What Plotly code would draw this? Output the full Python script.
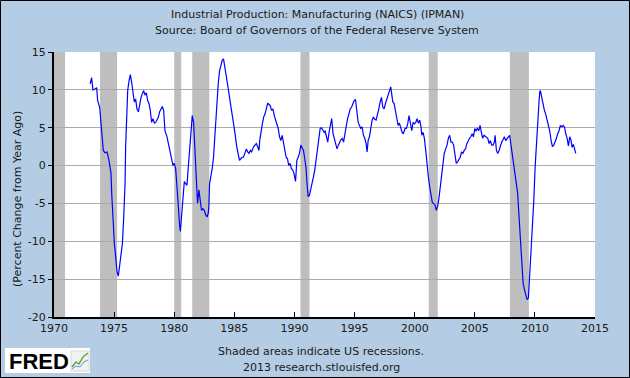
import plotly.graph_objects as go

# ---- data (decimal year, percent change from year ago) ----
years = [
    1973.00, 1973.13, 1973.24, 1973.41, 1973.55, 1973.63, 1973.80, 1973.91, 1974.02, 1974.10,
    1974.24, 1974.41, 1974.57, 1974.74, 1974.80, 1974.91, 1975.02, 1975.13, 1975.24, 1975.35,
    1975.46, 1975.57, 1975.69, 1975.80, 1975.91, 1975.96, 1976.07, 1976.13, 1976.24, 1976.35,
    1976.46, 1976.57, 1976.68, 1976.79, 1976.90, 1977.02, 1977.13, 1977.24, 1977.35, 1977.46,
    1977.57, 1977.68, 1977.79, 1977.90, 1978.01, 1978.12, 1978.23, 1978.35, 1978.46, 1978.57,
    1978.68, 1978.79, 1978.90, 1979.01, 1979.12,
    1979.23, 1979.40, 1979.57, 1979.73, 1979.90, 1980.01, 1980.12, 1980.23, 1980.34, 1980.45,
    1980.51, 1980.62, 1980.73, 1980.84, 1980.95, 1981.06, 1981.17, 1981.28, 1981.39, 1981.50,
    1981.61, 1981.72, 1981.83, 1981.94, 1982.05, 1982.16, 1982.27, 1982.39, 1982.50, 1982.61,
    1982.72, 1982.83, 1982.88, 1982.94, 1983.05, 1983.16, 1983.27, 1983.38, 1983.49, 1983.60,
    1983.66, 1983.77, 1983.88, 1983.99, 1984.10, 1984.21, 1984.32, 1984.43, 1984.54, 1984.65,
    1984.76, 1984.87, 1984.98, 1985.09, 1985.20, 1985.31, 1985.43, 1985.54, 1985.65, 1985.76,
    1985.87,
    1986.00, 1986.11, 1986.22, 1986.33, 1986.44, 1986.61, 1986.72, 1986.83, 1986.94, 1987.05,
    1987.11, 1987.22, 1987.33, 1987.44, 1987.55, 1987.66, 1987.77, 1987.88, 1987.99, 1988.10,
    1988.21, 1988.32, 1988.43, 1988.54, 1988.65, 1988.76, 1988.87, 1988.98, 1989.09, 1989.20,
    1989.31, 1989.42, 1989.53, 1989.64, 1989.75, 1989.86, 1989.97, 1990.09, 1990.14, 1990.20,
    1990.31, 1990.42, 1990.53, 1990.64, 1990.75, 1990.86, 1990.97, 1991.03, 1991.14, 1991.25,
    1991.36, 1991.47, 1991.58, 1991.69, 1991.80, 1991.91, 1992.03, 1992.14, 1992.25, 1992.36,
    1992.47,
    1992.55, 1992.66, 1992.77, 1992.88, 1993.00, 1993.10, 1993.21, 1993.32, 1993.43, 1993.54,
    1993.65, 1993.76, 1993.86, 1993.98, 1994.09, 1994.20, 1994.31, 1994.42, 1994.53, 1994.64,
    1994.75, 1994.86, 1994.97, 1995.08, 1995.19, 1995.30, 1995.41, 1995.52, 1995.63, 1995.74,
    1995.85, 1995.96, 1996.04, 1996.13, 1996.24, 1996.35, 1996.46, 1996.57, 1996.68, 1996.79,
    1996.90, 1997.02, 1997.13, 1997.24, 1997.35, 1997.46, 1997.57, 1997.68, 1997.79, 1997.90,
    1998.01, 1998.07, 1998.18, 1998.29, 1998.40, 1998.51, 1998.62, 1998.73, 1998.84, 1998.95,
    1999.06,
    1999.20, 1999.31, 1999.42, 1999.53, 1999.64, 1999.76, 1999.87, 1999.98, 2000.09, 2000.20,
    2000.31, 2000.42, 2000.53, 2000.59, 2000.70, 2000.81, 2000.92, 2001.03, 2001.14, 2001.25,
    2001.36, 2001.47, 2001.58, 2001.69, 2001.80, 2001.91, 2002.02, 2002.13, 2002.24, 2002.35,
    2002.46, 2002.58, 2002.69, 2002.80, 2002.91, 2003.02, 2003.13, 2003.24, 2003.35, 2003.46,
    2003.57, 2003.68, 2003.79, 2003.90, 2004.01, 2004.12, 2004.23, 2004.34, 2004.45, 2004.56,
    2004.67, 2004.78, 2004.89, 2005.00, 2005.11, 2005.22, 2005.33, 2005.44, 2005.55, 2005.66,
    2005.77,
    2005.97, 2006.08, 2006.19, 2006.30, 2006.41, 2006.52, 2006.63, 2006.69, 2006.80, 2006.91,
    2007.02, 2007.13, 2007.24, 2007.35, 2007.46, 2007.57, 2007.68, 2007.79, 2007.90, 2008.01,
    2008.13, 2008.24, 2008.35, 2008.46, 2008.57, 2008.63, 2008.74, 2008.85, 2008.91, 2009.02,
    2009.13, 2009.24, 2009.35, 2009.46, 2009.57, 2009.63, 2009.74, 2009.85, 2009.91, 2010.02,
    2010.13, 2010.24, 2010.35, 2010.41, 2010.46, 2010.57, 2010.68, 2010.79, 2010.90, 2011.01,
    2011.12, 2011.23, 2011.35, 2011.46, 2011.57, 2011.68, 2011.79, 2011.90, 2012.01, 2012.12,
    2012.23, 2012.35, 2012.46, 2012.57, 2012.68, 2012.79, 2012.90, 2013.00, 2013.10, 2013.20,
    2013.30, 2013.40,
]
pct_change = [
    10.8, 11.6, 10.0, 10.1, 10.3, 8.6, 7.7, 5.1, 3.3, 2.0,
    1.7, 1.8, 0.7, -1.0, -3.7, -7.6, -10.3, -12.0, -14.0, -14.6,
    -13.3, -11.6, -10.3, -6.8, -2.4, 2.5, 6.4, 9.9, 11.2, 12.0,
    11.0, 9.7, 8.4, 8.8, 7.5, 7.1, 8.2, 9.0, 9.5, 9.9,
    9.3, 9.6, 8.6, 8.2, 7.3, 5.7, 6.2, 5.6, 5.7, 6.0,
    6.4, 7.1, 7.5, 7.8, 7.3,
    4.6, 3.8, 2.5, 1.1, 0.0, 0.3, -0.4, -2.8, -6.3, -7.9,
    -8.7, -6.3, -4.8, -2.1, -2.4, -2.6, -0.2, 2.5, 5.1, 6.6,
    5.7, 2.5, -0.6, -5.0, -3.2, -4.6, -5.9, -5.7, -5.9, -6.5,
    -6.8, -6.3, -5.4, -2.4, -1.5, -0.4, 1.1, 4.2, 6.4, 9.5,
    10.8, 12.5, 13.2, 13.9, 14.1, 13.2, 11.9, 10.8, 9.5, 8.2,
    6.8, 6.2, 5.1, 3.3, 2.5, 1.6, 0.7, 0.9, 1.1, 1.1,
    1.6,
    2.2, 1.8, 1.6, 2.0, 1.8, 2.5, 2.7, 2.9, 2.5, 2.0,
    3.3, 4.6, 5.5, 6.4, 6.8, 7.5, 8.2, 8.1, 7.9, 7.3,
    7.5, 6.6, 6.0, 5.3, 4.9, 3.8, 3.3, 4.0, 3.1, 2.0,
    1.1, 0.9, 0.0, 0.3, -0.4, -0.6, -1.1, -2.1, -0.2, 0.7,
    1.1, 1.6, 2.7, 2.2, 2.0, 0.9, -0.4, -2.1, -4.1, -3.9,
    -3.2, -2.4, -1.5, -0.6, 0.7, 2.0, 3.3, 4.9, 5.0, 4.6,
    4.4,
    4.6, 3.8, 3.1, 4.4, 5.3, 6.2, 4.2, 3.6, 2.9, 2.2,
    2.7, 3.1, 3.4, 3.6, 3.1, 4.2, 5.3, 6.2, 6.8, 7.5,
    7.7, 8.2, 8.6, 8.7, 7.5, 5.7, 5.3, 4.9, 5.1, 4.0,
    3.6, 2.9, 1.8, 3.3, 3.8, 4.9, 6.0, 6.4, 6.1, 6.0,
    6.6, 7.5, 8.4, 9.0, 7.7, 7.5, 8.2, 8.8, 9.5, 9.8,
    10.4, 9.7, 8.4, 8.2, 7.1, 6.0, 5.3, 5.6, 5.1, 4.4,
    4.2,
    4.9, 4.9, 5.5, 6.6, 5.3, 4.6, 5.7, 5.5, 5.7, 6.2,
    5.6, 6.0, 5.1, 4.0, 4.4, 3.6, 2.0, 0.0, -1.5, -2.8,
    -4.1, -4.9, -5.0, -5.2, -5.9, -5.4, -4.3, -2.8, -1.1, 0.3,
    1.6, 2.2, 2.7, 3.6, 4.0, 3.1, 3.1, 2.7, 1.1, 0.3,
    0.5, 0.9, 1.1, 1.8, 1.6, 2.0, 2.2, 2.9, 3.3, 3.6,
    3.8, 4.2, 3.8, 4.9, 4.6, 4.9, 4.6, 5.3, 4.4, 3.6,
    4.0,
    3.8, 3.6, 2.9, 3.3, 2.7, 2.7, 3.1, 4.0, 2.0, 1.6,
    2.0, 2.7, 3.1, 3.4, 3.8, 3.3, 3.6, 3.8, 4.0, 2.7,
    1.8, 0.3, -1.5, -2.4, -3.7, -5.4, -8.5, -10.3, -12.9, -15.5,
    -16.4, -17.3, -17.7, -17.5, -14.6, -12.9, -9.8, -7.2, -4.6, -0.2,
    3.3, 6.0, 8.6, 9.8, 9.9, 9.0, 7.9, 7.3, 6.8, 6.0,
    5.5, 4.6, 3.3, 2.5, 2.7, 3.1, 3.6, 4.2, 4.6, 5.3,
    5.1, 5.3, 5.1, 4.2, 3.6, 2.6, 3.8, 3.4, 2.4, 2.8,
    2.2, 1.6,
]

# US recessions (decimal years)
rec_start = [1969.92, 1973.83, 1980.00, 1981.50, 1990.50, 2001.17, 2007.92]
rec_end = [1970.92, 1975.25, 1980.58, 1982.92, 1991.25, 2001.92, 2009.50]

x_ticks = [1970, 1975, 1980, 1985, 1990, 1995, 2000, 2005, 2010, 2015]
y_ticks = [-20, -15, -10, -5, 0, 5, 10, 15]

title_lines = ["Industrial Production: Manufacturing (NAICS) (IPMAN)",
               "Source: Board of Governors of the Federal Reserve System"]
y_title = "(Percent Change from Year Ago)"
footer_lines = ["Shaded areas indicate US recessions.", "2013 research.stlouisfed.org"]

# ---- layout geometry ----
FW, FH = 630, 378
L, R, T, B = 54, 35, 52, 61
PW, PH = FW - L - R, FH - T - B


def px(x):
    return (x - L) / PW


def py(y):
    return (FH - B - y) / PH


FONT = "DejaVu Sans, Verdana, sans-serif"
BG = "#B4CDE4"

fig = go.Figure()
fig.add_trace(go.Scatter(x=years, y=pct_change, mode="lines",
                         line=dict(color="#0000FF", width=1.2),
                         hoverinfo="skip", showlegend=False))

shapes = []
for s, e in zip(rec_start, rec_end):
    shapes.append(dict(type="rect", xref="x", yref="paper", x0=max(s, 1970), x1=e,
                       y0=0, y1=1, fillcolor="#BEBEBE", line=dict(width=0),
                       layer="between"))

# outer border
shapes.append(dict(type="rect", xref="paper", yref="paper",
                   x0=px(0.5), x1=px(FW - 0.5), y0=py(FH - 0.5), y1=py(0.5),
                   line=dict(color="black", width=1), fillcolor="rgba(0,0,0,0)",
                   layer="above"))
# FRED logo box
shapes.append(dict(type="rect", xref="paper", yref="paper",
                   x0=px(5), x1=px(90), y0=py(373), y1=py(348),
                   line=dict(width=0), fillcolor="white", layer="above"))
# logo icon
shapes.append(dict(type="rect", xref="paper", yref="paper",
                   x0=px(71), x1=px(89), y0=py(371), y1=py(351),
                   line=dict(color="#D8D8D8", width=1), fillcolor="#F2F2F2", layer="above"))


def path(points):
    d = "M " + " L ".join(f"{px(a):.5f},{py(b):.5f}" for a, b in points)
    return d


shapes.append(dict(type="path", xref="paper", yref="paper",
                   path=path([(72, 367), (76, 362), (79, 364), (83, 357), (88, 353)]),
                   line=dict(color="#5AAA3C", width=1.5), layer="above"))
shapes.append(dict(type="path", xref="paper", yref="paper",
                   path=path([(72, 369), (76, 366), (80, 367), (84, 362), (88, 360)]),
                   line=dict(color="#6A8FCF", width=1), layer="above"))

annotations = [
    dict(text=title_lines[0], x=px(317), y=py(14), xref="paper", yref="paper",
         showarrow=False, xanchor="center", yanchor="middle",
         font=dict(family=FONT, size=11, color="#1a1a1a")),
    dict(text=title_lines[1], x=px(317), y=py(30), xref="paper", yref="paper",
         showarrow=False, xanchor="center", yanchor="middle",
         font=dict(family=FONT, size=11, color="#1a1a1a")),
    dict(text=y_title, x=px(17), y=py(199), xref="paper", yref="paper",
         showarrow=False, xanchor="center", yanchor="middle", textangle=-90,
         font=dict(family=FONT, size=11, color="#1a1a1a")),
    dict(text=footer_lines[0], x=px(321), y=py(351), xref="paper", yref="paper",
         showarrow=False, xanchor="center", yanchor="middle",
         font=dict(family=FONT, size=11, color="#1a1a1a")),
    dict(text=footer_lines[1], x=px(321), y=py(367), xref="paper", yref="paper",
         showarrow=False, xanchor="center", yanchor="middle",
         font=dict(family=FONT, size=11, color="#1a1a1a")),
    dict(text="<b>FRED</b>", x=px(7), y=py(361), xref="paper", yref="paper",
         showarrow=False, xanchor="left", yanchor="middle",
         font=dict(family="Liberation Sans, Arial, sans-serif", size=22, color="black")),
]

fig.update_layout(
    width=FW, height=FH,
    margin=dict(l=L, r=R, t=T, b=B, pad=0),
    paper_bgcolor=BG, plot_bgcolor="white",
    shapes=shapes, annotations=annotations,
    showlegend=False,
    xaxis=dict(range=[1970, 2015], tickmode="array", tickvals=x_ticks,
               ticktext=[str(v) for v in x_ticks],
               ticks="inside", ticklen=5, tickwidth=1, tickcolor="black",
               showline=True, linecolor="black", linewidth=2,
               showgrid=False, zeroline=False,
               tickfont=dict(family=FONT, size=11, color="#1a1a1a")),
    yaxis=dict(range=[-20, 15], tickmode="array", tickvals=y_ticks,
               ticktext=[str(v) for v in y_ticks],
               ticks="outside", ticklen=4, tickwidth=1, tickcolor="black",
               showline=True, linecolor="black", linewidth=2,
               showgrid=True, gridcolor="#ABABAB", gridwidth=1,
               zeroline=False,
               tickfont=dict(family=FONT, size=11, color="#1a1a1a")),
)

fig.write_html("out.html",
               config={"displayModeBar": False, "staticPlot": True},
               post_script="document.body.style.margin='0px';document.body.style.overflow='hidden';")
